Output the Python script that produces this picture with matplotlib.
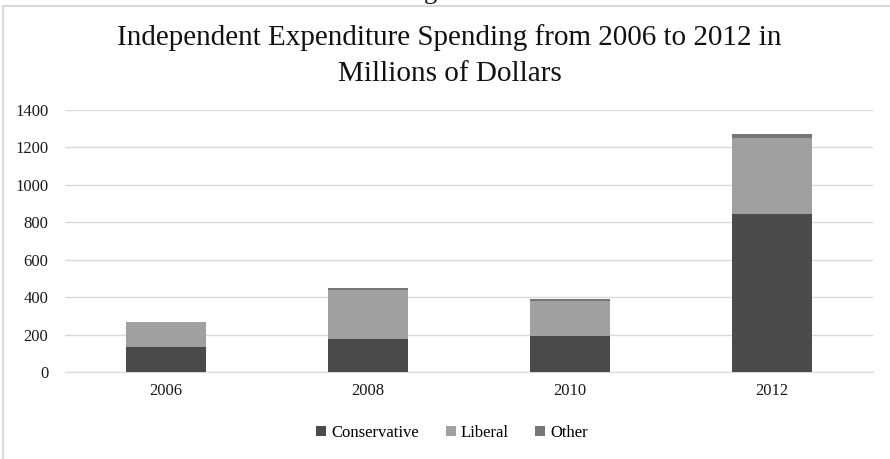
import matplotlib
matplotlib.use('Agg')
import matplotlib.pyplot as plt
from matplotlib.patches import Rectangle
import numpy as np

matplotlib.rcParams['font.family'] = "serif"
matplotlib.rcParams['font.serif'] = ["Liberation Serif", "DejaVu Serif"]

years = ['2006', '2008', '2010', '2012']
conservative = [135, 178, 192, 845]
liberal = [130, 260, 185, 403]
other = [3, 12, 13, 25]

fig = plt.figure(figsize=(8.9, 4.59), dpi=100)
ax = fig.add_axes([65/890, 1-372/459, (873-65)/890, (372-110)/459])

x = np.arange(len(years))
w = 0.4
cons = np.array(conservative)
lib = np.array(liberal)
ax.bar(x, conservative, w, color='#4a4a4a', label='Conservative', zorder=3)
ax.bar(x, liberal, w, bottom=cons, color='#a0a0a0', label='Liberal', zorder=3)
ax.bar(x, other, w, bottom=cons+lib, color='#767676', label='Other', zorder=3)

ax.set_xlim(-0.5, len(years)-0.5)
ax.set_ylim(0, 1400)
ax.set_yticks(range(0, 1401, 200))
ax.set_xticks(x)
ax.set_xticklabels(years)
ax.grid(axis='y', color='#d9d9d9', linewidth=1, zorder=0)
for s in ['top', 'right', 'left']:
    ax.spines[s].set_visible(False)
ax.spines['bottom'].set_color('#d9d9d9')
ax.tick_params(length=0, labelsize=12, colors='#1a1a1a')
ax.tick_params(axis='y', pad=12)
ax.tick_params(axis='x', pad=8)

fig.text(0.505, 1-38/459, 'Independent Expenditure Spending from 2006 to 2012 in',
         ha='center', va='center', fontsize=21, color='#111111')
fig.text(0.505, 1-74/459, 'Millions of Dollars',
         ha='center', va='center', fontsize=21, color='#111111')

# descender of the page heading above the chart
fig.text(430/890, 1+1/459, 'g', ha='center', va='baseline', fontsize=19, color='#111111')

fig.legend(loc='center', bbox_to_anchor=(452/890, 1-433/459), ncol=3, frameon=False,
           fontsize=12, handlelength=0.6, handleheight=0.6, handletextpad=0.3,
           columnspacing=1.6)

# chart border, cut at the page edge
fig.add_artist(Rectangle((3/890, -0.1), 1.0, 1-6/459+0.1, transform=fig.transFigure,
                         fill=False, edgecolor='#d9d9d9', linewidth=1.5))

fig.savefig('out.png', dpi=100)
